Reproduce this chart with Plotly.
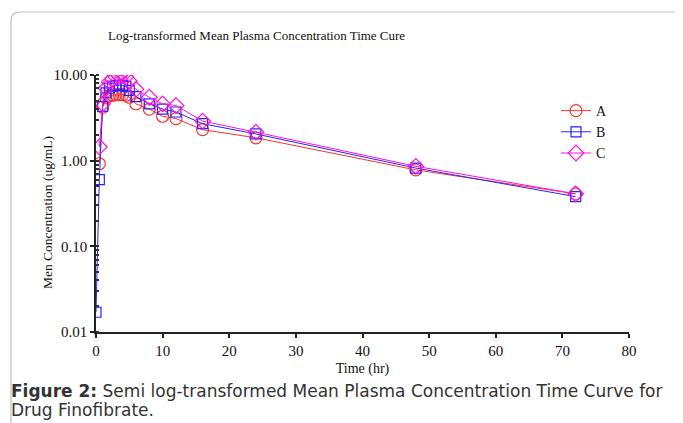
import plotly.graph_objects as go

time_a = [0.5, 1, 1.5, 2, 2.5, 3, 3.5, 4, 4.5, 5, 6, 8, 10, 12, 16, 24, 48, 72]
conc_a = [0.92, 4.2, 5.4, 5.7, 5.8, 5.9, 5.9, 5.9, 5.8, 5.5, 4.6, 4.0, 3.3, 3.1, 2.3, 1.85, 0.78, 0.41]

time_b = [0, 0.5, 1, 1.5, 2, 2.5, 3, 3.5, 4, 4.5, 5, 6, 8, 10, 12, 16, 24, 48, 72]
conc_b = [0.017, 0.6, 4.3, 6.2, 7.0, 7.4, 7.5, 7.6, 7.5, 7.3, 6.6, 5.6, 4.6, 4.0, 3.7, 2.7, 2.05, 0.82, 0.38]

time_c = [0.5, 1, 1.5, 2, 2.5, 3, 3.5, 4, 4.5, 5, 6, 8, 10, 12, 16, 24, 48, 72]
conc_c = [1.45, 4.6, 7.0, 8.3, 9.0, 9.5, 9.8, 9.9, 9.5, 8.5, 6.8, 5.5, 4.6, 4.4, 2.9, 2.15, 0.86, 0.41]

y_tickvals = [0.01, 0.1, 1, 10]
y_ticktext = ["0.01", "0.10", "1.00", "10.00"]
x_tickvals = [0, 10, 20, 30, 40, 50, 60, 70, 80]

SERIF = "Liberation Serif, Times New Roman, serif"
SANS = "DejaVu Sans, Liberation Sans, Arial, sans-serif"

fig = go.Figure()
fig.add_trace(go.Scatter(x=time_a, y=conc_a, name="A", mode="lines+markers",
                         line=dict(color="#ff3030", width=1),
                         marker=dict(symbol="circle-open", size=12, color="#ff3030", line=dict(width=1.2))))
fig.add_trace(go.Scatter(x=time_b, y=conc_b, name="B", mode="lines+markers",
                         line=dict(color="#2525ff", width=1),
                         marker=dict(symbol="square-open", size=10, color="#2525ff", line=dict(width=1.2))))
fig.add_trace(go.Scatter(x=time_c, y=conc_c, name="C", mode="lines+markers",
                         line=dict(color="#ff10e0", width=1),
                         marker=dict(symbol="diamond-open", size=12, color="#ff10e0", line=dict(width=1.2))))

OFF = 8  # page body margin
W, H = 683, 423
# plot area in page pixels: x 96..629, y 75..332
L = 96 - OFF
T = 75 - OFF
R = W - (629 - OFF)
B = H - (332 - OFF)
pw, ph = W - L - R, H - T - B

def px(x):
    return (x - OFF - L) / pw

def py(y):
    return (H - B - (y - OFF)) / ph

# rounded frame (page coords)
x0, x1 = px(11), px(720)
y0, y1 = py(12), py(460)
rx, ry = 9 / pw, 9 / ph
path = f"M {x0},{y1} L {x0},{y0 - ry} Q {x0},{y0} {x0 + rx},{y0} L {x1},{y0}"
fig.add_shape(type="path", path=path, xref="paper", yref="paper",
              line=dict(color="#c0c0c0", width=1.2), layer="below")

fig.add_annotation(x=px(106), y=py(35), xref="paper", yref="paper", xanchor="left", yanchor="middle",
                   text="Log-transformed Mean Plasma Concentration Time Cure", showarrow=False,
                   font=dict(family=SERIF, size=13, color="#111"))

fig.add_annotation(x=px(47), y=py(213), xref="paper", yref="paper", xanchor="center", yanchor="middle",
                   text="Men Concentration (ug/mL)", textangle=-90, showarrow=False,
                   font=dict(family=SERIF, size=13.5, color="#111"))

fig.add_annotation(x=px(9), y=py(391), xref="paper", yref="paper", xanchor="left", yanchor="middle",
                   text="<b>Figure 2:</b> Semi log-transformed Mean Plasma Concentration Time Curve for",
                   showarrow=False, font=dict(family=SANS, size=17, color="#333"))
fig.add_annotation(x=px(9), y=py(410), xref="paper", yref="paper", xanchor="left", yanchor="middle",
                   text="Drug Finofibrate.",
                   showarrow=False, font=dict(family=SANS, size=17, color="#333"))

fig.update_layout(
    width=W, height=H,
    margin=dict(l=L, r=R, t=T, b=B),
    paper_bgcolor="white", plot_bgcolor="white",
    showlegend=True,
    legend=dict(x=px(556), y=py(95), xanchor="left", yanchor="top", bgcolor="rgba(0,0,0,0)",
                font=dict(family=SERIF, size=14, color="#111"), itemwidth=30, tracegroupgap=0),
    font=dict(family=SERIF, color="#111"),
)
fig.update_xaxes(range=[0, 80], tickvals=x_tickvals, showgrid=False, zeroline=False,
                 showline=True, linecolor="#222", linewidth=1.5, ticks="outside", ticklen=4,
                 tickcolor="#222", tickwidth=1.5, tickfont=dict(family=SERIF, size=15, color="#111"),
                 title=dict(text="Time (hr)", font=dict(family=SERIF, size=14, color="#111"), standoff=5))
fig.update_yaxes(type="log", range=[-2, 1], tickvals=y_tickvals, ticktext=y_ticktext, showgrid=False,
                 zeroline=False, showline=True, linecolor="#222", linewidth=1.5, ticks="outside", ticklen=4,
                 tickcolor="#222", tickwidth=1.5, tickfont=dict(family=SERIF, size=15, color="#111"),
                 minor=dict(ticks="inside", ticklen=3, dtick="D1", tickcolor="#333", showgrid=False))

fig.write_html("out.html")
